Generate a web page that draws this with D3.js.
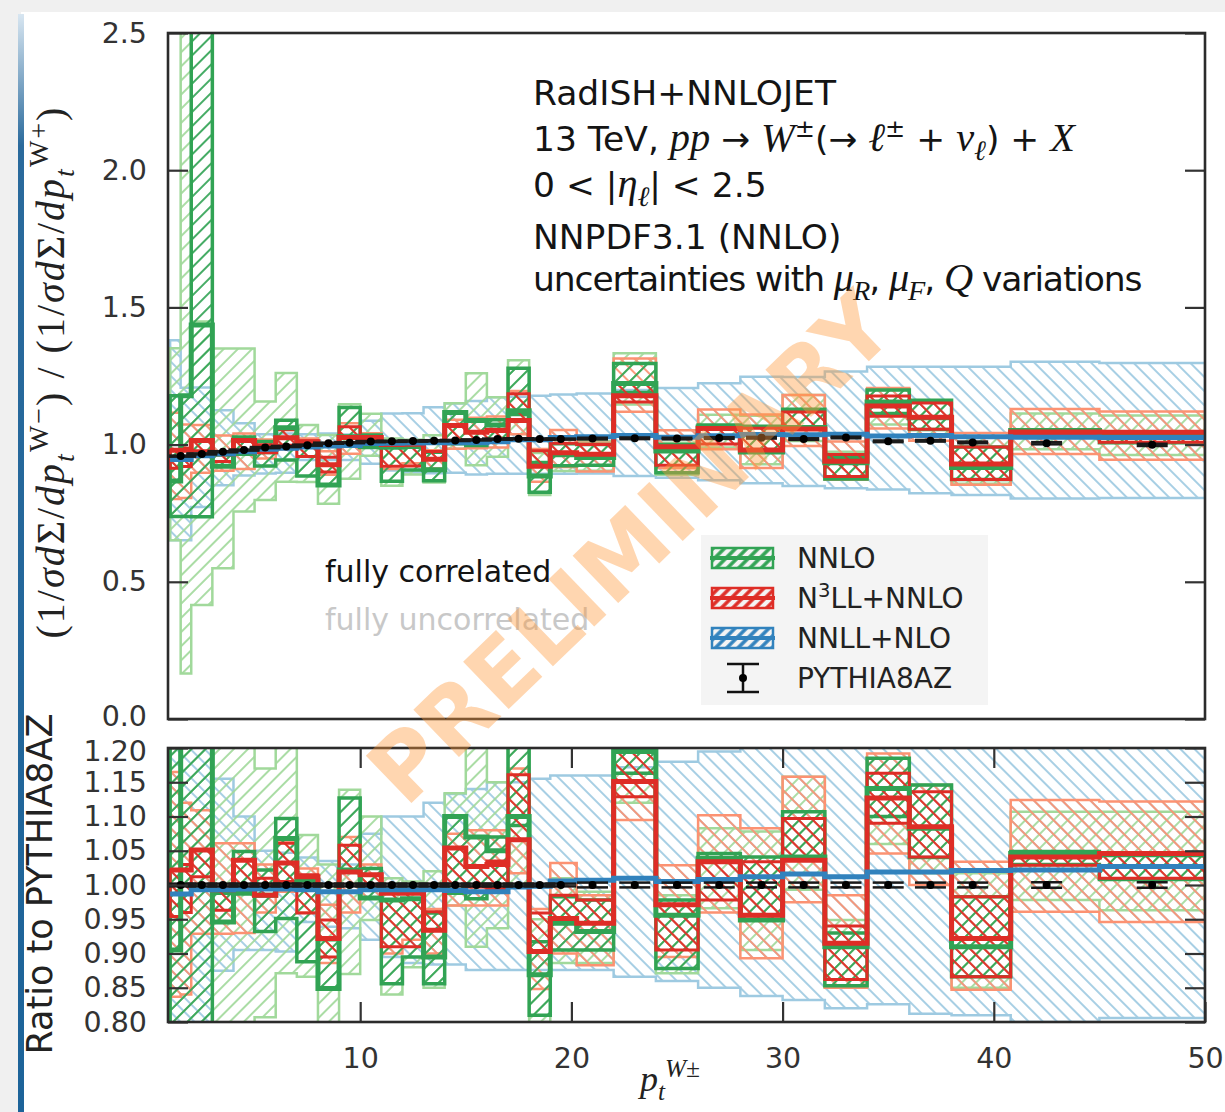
<!DOCTYPE html>
<html>
<head>
<meta charset="utf-8">
<script src="https://cdn.jsdelivr.net/npm/d3@7"></script>
<style>
  body { margin: 0; background: #f0f0f0; }
  svg { display: block; }
</style>
</head>
<body>
<svg id="chart" width="1225" height="1112"></svg>
<script>
// ---------------- binning ----------------
const binEdges = [1, 1.5, 2, 3, 4, 5, 6, 7, 8, 9, 10, 11, 12, 13, 14, 15, 16, 17, 18, 19, 20.25,
                  22, 24, 26, 28, 30, 32, 34, 36, 38, 40.8, 45, 50];

// ---------------- upper panel: (1/σ dΣ/dpt)_W- / (1/σ dΣ/dpt)_W+ ----------------
// NNLO
const nnloC      = [0.867, 1.178, 1.436, 0.921, 0.968, 0.974, 1.061, 1.005, 0.853, 1.029, 0.992, 0.990, 0.993, 0.908, 1.117, 1.088, 1.071, 1.123, 0.886, 0.963, 0.953, 1.223, 0.977, 1.064, 0.973, 1.062, 0.934, 1.155, 1.098, 0.917, 1.051, 1.043];
const nnloCorrLo = [0.738, 0.738, 0.737, 0.921, 0.968, 0.922, 0.944, 0.886, 0.853, 1.029, 0.992, 0.866, 0.907, 0.868, 1.003, 0.997, 1.010, 1.110, 0.826, 0.923, 0.925, 1.190, 0.897, 1.064, 0.973, 1.062, 0.875, 1.113, 1.055, 0.873, 1.035, 1.007];
const nnloCorrHi = [1.178, 1.178, 2.608, 0.962, 1.028, 1.011, 1.089, 1.005, 0.925, 1.135, 1.035, 0.990, 0.993, 0.972, 1.117, 1.088, 1.091, 1.278, 0.935, 1.003, 1.000, 1.296, 1.000, 1.071, 1.067, 1.129, 0.954, 1.199, 1.162, 0.991, 1.054, 1.045];
const nnloUncLo  = [0.651, 0.166, 0.415, 0.549, 0.756, 0.798, 0.865, 0.864, 0.784, 0.876, 0.959, 0.850, 0.891, 0.862, 0.985, 0.925, 0.956, 1.021, 0.816, 0.904, 0.905, 1.146, 0.890, 0.989, 0.928, 1.013, 0.872, 1.073, 1.031, 0.857, 0.983, 0.962];
const nnloUncHi  = [1.351, 2.587, 1.449, 1.350, 1.350, 1.157, 1.261, 1.071, 1.035, 1.147, 1.112, 1.022, 1.018, 1.034, 1.151, 1.260, 1.173, 1.307, 0.969, 1.030, 1.012, 1.333, 1.007, 1.109, 1.105, 1.181, 0.974, 1.199, 1.162, 1.025, 1.113, 1.106];
// N3LL+NNLO
const n3llC      = [0.979, 0.979, 1.015, 0.967, 1.015, 0.974, 1.025, 1.010, 0.927, 1.026, 1.026, 1.000, 1.001, 0.947, 1.070, 1.045, 1.051, 1.088, 0.921, 0.970, 0.965, 1.178, 0.992, 1.059, 0.980, 1.057, 0.939, 1.141, 1.100, 0.929, 1.046, 1.045];
const n3llCorrLo = [0.914, 0.920, 0.978, 0.938, 0.973, 0.974, 0.998, 0.957, 0.900, 1.026, 1.011, 0.921, 0.922, 0.947, 1.008, 1.014, 1.015, 1.088, 0.921, 0.970, 0.965, 1.155, 0.925, 1.002, 0.980, 1.057, 0.884, 1.103, 1.056, 0.873, 1.034, 1.009];
const n3llCorrHi = [0.979, 0.987, 1.015, 0.967, 1.015, 0.999, 1.054, 1.013, 0.954, 1.065, 1.026, 1.000, 1.001, 0.975, 1.070, 1.045, 1.056, 1.185, 0.978, 1.005, 1.000, 1.224, 0.992, 1.059, 1.060, 1.119, 0.964, 1.177, 1.152, 0.991, 1.051, 1.045];
const n3llUncLo  = [0.802, 0.805, 0.897, 0.905, 0.911, 0.949, 0.983, 0.958, 0.890, 0.967, 0.991, 0.911, 0.932, 0.913, 0.985, 0.987, 0.989, 1.038, 0.865, 0.918, 0.902, 1.120, 0.915, 0.983, 0.915, 0.995, 0.872, 1.059, 1.014, 0.854, 0.966, 0.945];
const n3llUncHi  = [1.116, 1.073, 1.071, 1.033, 1.040, 1.019, 1.058, 1.022, 0.976, 1.078, 1.041, 1.007, 1.003, 0.979, 1.091, 1.098, 1.102, 1.195, 0.984, 1.053, 1.007, 1.314, 1.052, 1.128, 1.110, 1.181, 1.011, 1.206, 1.162, 1.042, 1.130, 1.121];
// NNLL+NLO
const nnllC  = [0.946, 0.946, 0.959, 0.967, 0.974, 0.983, 0.987, 0.991, 0.995, 0.997, 1.004, 1.005, 1.006, 1.007, 1.007, 1.007, 1.010, 1.018, 1.018, 1.026, 1.029, 1.033, 1.027, 1.032, 1.037, 1.036, 1.038, 1.031, 1.033, 1.029, 1.027, 1.026];
const nnllLo = [0.651, 0.651, 0.773, 0.852, 0.887, 0.895, 0.897, 0.944, 0.944, 0.944, 0.930, 0.906, 0.898, 0.896, 0.897, 0.891, 0.894, 0.894, 0.894, 0.894, 0.895, 0.886, 0.879, 0.870, 0.859, 0.849, 0.841, 0.836, 0.823, 0.816, 0.804, 0.805];
const nnllHi = [1.380, 1.207, 1.208, 1.125, 1.078, 1.038, 1.040, 1.038, 1.040, 1.037, 1.087, 1.113, 1.114, 1.136, 1.150, 1.159, 1.173, 1.174, 1.178, 1.183, 1.186, 1.199, 1.206, 1.224, 1.247, 1.246, 1.266, 1.284, 1.284, 1.284, 1.302, 1.297];

// ---------------- lower panel: ratio to PYTHIA8AZ ----------------
const nnloRC      = [0.905, 1.230, 1.487, 0.946, 0.988, 0.985, 1.068, 1.007, 0.849, 1.022, 0.981, 0.978, 0.980, 0.895, 1.100, 1.070, 1.050, 1.100, 0.869, 0.944, 0.932, 1.195, 0.956, 1.039, 0.949, 1.041, 0.910, 1.141, 1.083, 0.910, 1.046, 1.044];
const nnloRCorrLo = [0.770, 0.770, 0.763, 0.946, 0.988, 0.932, 0.951, 0.888, 0.849, 1.022, 0.981, 0.856, 0.895, 0.856, 0.988, 0.980, 0.990, 1.087, 0.810, 0.905, 0.905, 1.163, 0.878, 1.039, 0.949, 1.041, 0.853, 1.100, 1.040, 0.866, 1.030, 1.008];
const nnloRCorrHi = [1.230, 1.230, 2.700, 0.988, 1.049, 1.022, 1.097, 1.007, 0.920, 1.127, 1.024, 0.978, 0.980, 0.959, 1.100, 1.070, 1.070, 1.252, 0.917, 0.983, 0.978, 1.267, 0.978, 1.046, 1.041, 1.107, 0.930, 1.185, 1.146, 0.983, 1.049, 1.046];
const nnloRUncLo  = [0.680, 0.173, 0.430, 0.564, 0.771, 0.807, 0.871, 0.866, 0.780, 0.870, 0.949, 0.840, 0.880, 0.850, 0.970, 0.910, 0.937, 1.000, 0.800, 0.886, 0.886, 1.120, 0.871, 0.966, 0.905, 0.993, 0.850, 1.060, 1.017, 0.850, 0.978, 0.963];
const nnloRUncHi  = [1.410, 2.700, 1.500, 1.386, 1.378, 1.170, 1.270, 1.073, 1.030, 1.139, 1.100, 1.010, 1.005, 1.020, 1.134, 1.239, 1.150, 1.280, 0.950, 1.010, 0.990, 1.303, 0.985, 1.083, 1.078, 1.158, 0.949, 1.185, 1.146, 1.017, 1.107, 1.107];

const n3llRC      = [1.022, 1.022, 1.051, 0.993, 1.036, 0.985, 1.032, 1.012, 0.922, 1.019, 1.015, 0.988, 0.988, 0.934, 1.054, 1.027, 1.030, 1.066, 0.903, 0.951, 0.944, 1.151, 0.971, 1.034, 0.956, 1.036, 0.915, 1.127, 1.085, 0.922, 1.041, 1.046];
const n3llRCorrLo = [0.954, 0.960, 1.012, 0.963, 0.993, 0.985, 1.005, 0.959, 0.895, 1.019, 1.000, 0.910, 0.910, 0.934, 0.993, 0.997, 0.995, 1.066, 0.903, 0.951, 0.944, 1.129, 0.905, 0.978, 0.956, 1.036, 0.862, 1.090, 1.041, 0.866, 1.029, 1.010];
const n3llRCorrHi = [1.022, 1.030, 1.051, 0.993, 1.036, 1.010, 1.061, 1.015, 0.949, 1.058, 1.015, 0.988, 0.988, 0.961, 1.054, 1.027, 1.035, 1.161, 0.959, 0.985, 0.978, 1.196, 0.971, 1.034, 1.034, 1.097, 0.940, 1.163, 1.136, 0.983, 1.046, 1.046];
const n3llRUncLo  = [0.837, 0.840, 0.929, 0.929, 0.930, 0.960, 0.990, 0.960, 0.886, 0.960, 0.980, 0.900, 0.920, 0.900, 0.970, 0.970, 0.970, 1.017, 0.848, 0.900, 0.883, 1.095, 0.895, 0.960, 0.893, 0.975, 0.850, 1.046, 1.000, 0.847, 0.961, 0.946];
const n3llRUncHi  = [1.165, 1.120, 1.109, 1.061, 1.061, 1.030, 1.065, 1.024, 0.971, 1.070, 1.030, 0.995, 0.990, 0.965, 1.075, 1.080, 1.080, 1.170, 0.965, 1.032, 0.985, 1.284, 1.029, 1.102, 1.083, 1.158, 0.985, 1.192, 1.146, 1.034, 1.124, 1.122];

const nnllRC  = [0.987, 0.987, 0.993, 0.993, 0.994, 0.994, 0.994, 0.993, 0.990, 0.990, 0.993, 0.993, 0.993, 0.993, 0.992, 0.990, 0.990, 0.997, 0.998, 1.006, 1.007, 1.010, 1.005, 1.008, 1.012, 1.016, 1.012, 1.019, 1.019, 1.021, 1.022, 1.027];
const nnllRLo = [0.680, 0.680, 0.800, 0.875, 0.905, 0.905, 0.903, 0.946, 0.939, 0.937, 0.920, 0.895, 0.886, 0.884, 0.884, 0.876, 0.876, 0.876, 0.876, 0.876, 0.876, 0.866, 0.860, 0.850, 0.838, 0.832, 0.820, 0.826, 0.812, 0.810, 0.800, 0.806];
const nnllRHi = [1.440, 1.260, 1.250, 1.155, 1.100, 1.050, 1.047, 1.040, 1.035, 1.030, 1.075, 1.100, 1.100, 1.120, 1.133, 1.140, 1.150, 1.150, 1.155, 1.160, 1.160, 1.172, 1.180, 1.195, 1.217, 1.222, 1.234, 1.269, 1.266, 1.274, 1.296, 1.298];

// ---------------- PYTHIA8AZ reference ----------------
const pythiaX   = [1.5, 2.5, 3.5, 4.5, 5.5, 6.5, 7.5, 8.5, 9.5, 10.5, 11.5, 12.5, 13.5, 14.5, 15.5, 16.5, 17.5, 18.5, 19.5,
                   21, 23, 25, 27, 29, 31, 33, 35, 37, 39, 42.5, 47.5];
const pythiaY   = [0.958, 0.966, 0.974, 0.980, 0.989, 0.993, 0.998, 1.005, 1.007, 1.011, 1.012, 1.013, 1.014, 1.015, 1.017, 1.020, 1.021, 1.020, 1.020,
                   1.022, 1.023, 1.022, 1.024, 1.025, 1.020, 1.026, 1.012, 1.014, 1.008, 1.005, 0.999];
const pythiaErr = [0.002, 0.002, 0.002, 0.002, 0.002, 0.002, 0.002, 0.002, 0.002, 0.002, 0.002, 0.002, 0.002, 0.002, 0.002, 0.002, 0.002, 0.002, 0.002,
                   0.003, 0.003, 0.003, 0.003, 0.003, 0.003, 0.003, 0.003, 0.003, 0.003, 0.004, 0.004];
const pythiaRatio    = [1, 1, 1, 1, 1, 1, 1, 1, 1, 1, 1, 1, 1, 1, 1, 1, 1, 1, 1, 1, 1, 1, 1, 1, 1, 1, 1, 1, 1, 1, 1];
const pythiaRatioErr = [0.002, 0.002, 0.002, 0.002, 0.002, 0.002, 0.002, 0.002, 0.002, 0.002, 0.002, 0.002, 0.002, 0.002, 0.002, 0.002, 0.002, 0.002, 0.002,
                        0.0035, 0.0035, 0.0035, 0.0035, 0.0035, 0.0035, 0.0035, 0.0035, 0.0035, 0.0035, 0.004, 0.004];

// ---------------- axes ticks ----------------
const topTicks = [0, 0.5, 1.0, 1.5, 2.0, 2.5];
const botTicks = [0.80, 0.85, 0.90, 0.95, 1.00, 1.05, 1.10, 1.15, 1.20];
const xTicks   = [10, 20, 30, 40, 50];

// ---------------- styling ----------------
const C = {
  green: "#31a354", greenL: "#a1d99b",
  red: "#de2d26",   redL: "#fc9272",
  blue: "#3182bd",  blueL: "#9ecae1",
  axis: "#333333"
};
const SANS = "'DejaVu Sans', 'Liberation Sans', sans-serif";
const SERIF = "'Liberation Serif', 'DejaVu Serif', serif";

const svg = d3.select("#chart");
const W = 1225, H = 1112;

const x = d3.scaleLinear().domain([0.9, 50]).range([168, 1205]);
const yTop = d3.scaleLinear().domain([0, 2.5]).range([719, 33]);
const yBot = d3.scaleLinear().domain([0.8, 1.2]).range([1022, 748]);

// ---------------- page frame ----------------
const defs = svg.append("defs");
const gTop = defs.append("linearGradient").attr("id", "frameTop").attr("x1", 0).attr("x2", 1).attr("y1", 0).attr("y2", 0);
gTop.append("stop").attr("offset", "0%").attr("stop-color", "#cfe0ee");
gTop.append("stop").attr("offset", "12%").attr("stop-color", "#2a6a9c");
gTop.append("stop").attr("offset", "100%").attr("stop-color", "#1f5d8e");
const gLeft = defs.append("linearGradient").attr("id", "frameLeft").attr("x1", 0).attr("x2", 0).attr("y1", 0).attr("y2", 1);
gLeft.append("stop").attr("offset", "0%").attr("stop-color", "#d8e6f1");
gLeft.append("stop").attr("offset", "12%").attr("stop-color", "#2a6a9c");
gLeft.append("stop").attr("offset", "100%").attr("stop-color", "#1c6399");

svg.append("rect").attr("width", W).attr("height", H).attr("fill", "#f0f0f0");
svg.append("rect").attr("x", 21).attr("y", 12).attr("width", W - 21).attr("height", H - 12).attr("fill", "#ffffff");
svg.append("line").attr("x1", 30).attr("x2", W).attr("y1", 12).attr("y2", 12)
  .attr("stroke", "url(#frameTop)").attr("stroke-width", 4);
svg.append("rect").attr("x", 18).attr("y", 14).attr("width", 6).attr("height", H - 14)
  .attr("fill", "url(#frameLeft)");

// ---------------- hatch patterns ----------------
function hatch(id, color, angle, spacing, width) {
  const p = defs.append("pattern").attr("id", id)
    .attr("patternUnits", "userSpaceOnUse")
    .attr("width", spacing).attr("height", spacing)
    .attr("patternTransform", `rotate(${angle})`);
  p.append("line").attr("x1", spacing / 2).attr("x2", spacing / 2)
    .attr("y1", 0).attr("y2", spacing)
    .attr("stroke", color).attr("stroke-width", width);
}
hatch("hGreenL", C.greenL, 45, 10, 1.8);
hatch("hGreen", C.green, 45, 10, 1.8);
hatch("hRedL", C.redL, -45, 10, 1.8);
hatch("hRed", C.red, -45, 10, 1.8);
hatch("hBlueL", C.blueL, -45, 10, 1.8);
hatch("lgGreen", C.green, 45, 8, 3.5);
hatch("lgRed", C.red, 45, 8, 3.5);
hatch("lgBlue", C.blue, 45, 8, 3.5);

defs.append("clipPath").attr("id", "clipTop").append("rect")
  .attr("x", 168).attr("y", 33).attr("width", 1037).attr("height", 686);
defs.append("clipPath").attr("id", "clipBot").append("rect")
  .attr("x", 168).attr("y", 748).attr("width", 1037).attr("height", 274);

// ---------------- drawing helpers ----------------
function stepBand(lo, hi) {
  const pts = lo.map((v, i) => ({ e: binEdges[i], lo: v, hi: hi[i] }));
  pts.push({ e: binEdges[lo.length], lo: lo[lo.length - 1], hi: hi[hi.length - 1] });
  return pts;
}
function stepLine(vals) {
  const pts = vals.map((v, i) => ({ e: binEdges[i], v }));
  pts.push({ e: binEdges[vals.length], v: vals[vals.length - 1] });
  return pts;
}

function drawPanel(y, clipId, s) {
  const g = svg.append("g").attr("clip-path", `url(#${clipId})`);
  const area = d3.area().x(d => x(d.e)).y0(d => y(d.lo)).y1(d => y(d.hi)).curve(d3.curveStepAfter);
  const line = d3.line().x(d => x(d.e)).y(d => y(d.v)).curve(d3.curveStepAfter);

  const band = (lo, hi, fill, stroke, sw) =>
    g.append("path").datum(stepBand(lo, hi)).attr("d", area)
      .attr("fill", fill).attr("stroke", stroke).attr("stroke-width", sw)
      .attr("stroke-linejoin", "miter");

  band(s.nnllLo, s.nnllHi, "url(#hBlueL)", C.blueL, 2.5);
  band(s.nnloUncLo, s.nnloUncHi, "url(#hGreenL)", C.greenL, 2.5);
  band(s.n3llUncLo, s.n3llUncHi, "url(#hRedL)", C.redL, 2.5);
  band(s.nnloCorrLo, s.nnloCorrHi, "url(#hGreen)", C.green, 3.5);
  band(s.n3llCorrLo, s.n3llCorrHi, "url(#hRed)", C.red, 3);

  const central = (vals, color, sw) =>
    g.append("path").datum(stepLine(vals)).attr("d", line)
      .attr("fill", "none").attr("stroke", color).attr("stroke-width", sw);
  central(s.nnloC, C.green, 5);
  central(s.n3llC, C.red, 5);
  central(s.nnllC, C.blue, 5);

  // PYTHIA8AZ points with error bars
  const pg = g.append("g");
  s.pyY.forEach((v, i) => {
    const cx = x(pythiaX[i]);
    const yl = y(v - s.pyE[i]), yh = y(v + s.pyE[i]);
    pg.append("line").attr("x1", cx).attr("x2", cx).attr("y1", yl).attr("y2", yh)
      .attr("stroke", "#111").attr("stroke-width", 2.5);
    [yl, yh].forEach(yy => pg.append("line")
      .attr("x1", cx - 15.5).attr("x2", cx + 15.5).attr("y1", yy).attr("y2", yy)
      .attr("stroke", "#1a1a1a").attr("stroke-width", 2.5));
    pg.append("circle").attr("cx", cx).attr("cy", y(v)).attr("r", 4).attr("fill", "#000");
  });
}

drawPanel(yTop, "clipTop", {
  nnllLo, nnllHi, nnllC,
  nnloUncLo, nnloUncHi, nnloCorrLo, nnloCorrHi, nnloC,
  n3llUncLo, n3llUncHi, n3llCorrLo, n3llCorrHi, n3llC,
  pyY: pythiaY, pyE: pythiaErr
});
drawPanel(yBot, "clipBot", {
  nnllLo: nnllRLo, nnllHi: nnllRHi, nnllC: nnllRC,
  nnloUncLo: nnloRUncLo, nnloUncHi: nnloRUncHi, nnloCorrLo: nnloRCorrLo, nnloCorrHi: nnloRCorrHi, nnloC: nnloRC,
  n3llUncLo: n3llRUncLo, n3llUncHi: n3llRUncHi, n3llCorrLo: n3llRCorrLo, n3llCorrHi: n3llRCorrHi, n3llC: n3llRC,
  pyY: pythiaRatio, pyE: pythiaRatioErr
});

// ---------------- axes ----------------
const TICK_FS = 28.5;
function styleAxis(sel) {
  sel.select(".domain").remove();
  sel.selectAll(".tick line").attr("stroke", C.axis).attr("stroke-width", 2.2);
  sel.selectAll(".tick text").attr("fill", C.axis)
    .style("font-family", SANS).style("font-size", TICK_FS + "px");
  return sel;
}
const axTopL = styleAxis(svg.append("g").attr("transform", "translate(168,0)")
  .call(d3.axisLeft(yTop).tickValues(topTicks).tickFormat(d3.format(".1f")).tickSize(-20).tickPadding(21)));
styleAxis(svg.append("g").attr("transform", "translate(1205,0)")
  .call(d3.axisRight(yTop).tickValues(topTicks).tickFormat("").tickSize(-20)));
const axBotL = styleAxis(svg.append("g").attr("transform", "translate(168,0)")
  .call(d3.axisLeft(yBot).tickValues(botTicks).tickFormat(d3.format(".2f")).tickSize(-20).tickPadding(21)));
styleAxis(svg.append("g").attr("transform", "translate(1205,0)")
  .call(d3.axisRight(yBot).tickValues(botTicks).tickFormat("").tickSize(-20)));
styleAxis(svg.append("g").attr("transform", "translate(0,1022)")
  .call(d3.axisBottom(x).tickValues(xTicks).tickFormat(d3.format("d")).tickSize(-20).tickPadding(26)));
styleAxis(svg.append("g").attr("transform", "translate(0,748)")
  .call(d3.axisTop(x).tickValues(xTicks.slice(0, 4)).tickFormat("").tickSize(-20)));
// the two labels where the panels meet sit slightly apart
axTopL.selectAll(".tick text").filter(d => d === 0).attr("y", -3);
axBotL.selectAll(".tick text").filter(d => d === 1.2).attr("y", 3);

// panel frames
[[33, 719], [748, 1022]].forEach(([t, b]) =>
  svg.append("rect").attr("x", 168).attr("y", t).attr("width", 1037).attr("height", b - t)
    .attr("fill", "none").attr("stroke", "#2b2b2b").attr("stroke-width", 2.6));

// ---------------- rich text helper ----------------
// segments: plain text, italic math (it), superscript (sup), subscript (sub)
function rich(sel, segs, size, mathScale = 1) {
  let off = 0;
  segs.forEach(s => {
    const ts = sel.append("tspan").text(s.t);
    let target = 0, fs = size;
    if (s.it || s.serif) fs = size * mathScale;
    if (s.sup) { target = -0.40 * size; fs = 0.7 * fs; }
    if (s.sub) { target = 0.25 * size; fs = 0.7 * fs; }
    ts.attr("dy", (target - off).toFixed(2));
    off = target;
    ts.style("font-size", fs.toFixed(1) + "px");
    if (s.it) ts.style("font-family", SERIF).style("font-style", "italic");
    if (s.serif) ts.style("font-family", SERIF);
    if (s.dx !== undefined) ts.attr("dx", s.dx);
  });
}

// ---------------- annotation block ----------------
const info = svg.append("g").style("font-family", SANS).attr("fill", "#141414");
const infoX = 533, FS = 34.5, MS = 1.17;
rich(info.append("text").attr("x", infoX).attr("y", 105), [{ t: "RadISH+NNLOJET" }], FS);
rich(info.append("text").attr("x", infoX).attr("y", 151), [
  { t: "13 TeV, " }, { t: "pp", it: true }, { t: " → " }, { t: "W", it: true }, { t: "±", sup: true },
  { t: "(→ " }, { t: "ℓ", it: true }, { t: "±", sup: true }, { t: " + " },
  { t: "ν", it: true }, { t: "ℓ", sub: true, it: true }, { t: ") + " }, { t: "X", it: true }
], FS, MS);
rich(info.append("text").attr("x", infoX).attr("y", 197), [
  { t: "0 < |" }, { t: "η", it: true }, { t: "ℓ", sub: true, it: true }, { t: "| < 2.5" }
], FS, MS);
rich(info.append("text").attr("x", infoX).attr("y", 249), [{ t: "NNPDF3.1 (NNLO)" }], FS);
rich(info.append("text").attr("x", infoX).attr("y", 291).style("letter-spacing", "-1.1px"), [
  { t: "uncertainties with " }, { t: "μ", it: true }, { t: "R", sub: true, it: true }, { t: ", " },
  { t: "μ", it: true }, { t: "F", sub: true, it: true }, { t: ", " }, { t: "Q", it: true }, { t: " variations" }
], FS, MS);

svg.append("text").attr("x", 325).attr("y", 582).text("fully correlated")
  .style("font-family", SANS).style("font-size", "30px").attr("fill", "#141414");
svg.append("text").attr("x", 325).attr("y", 630).text("fully uncorrelated")
  .style("font-family", SANS).style("font-size", "30px").attr("fill", "#c8c8c8");

// ---------------- legend ----------------
const lg = svg.append("g");
lg.append("rect").attr("x", 701).attr("y", 535).attr("width", 287).attr("height", 170).attr("fill", "#f4f4f4");
const legendItems = [
  { label: [{ t: "NNLO" }], color: C.green, pat: "lgGreen", cy: 558 },
  { label: [{ t: "N" }, { t: "3", sup: true }, { t: "LL+NNLO" }], color: C.red, pat: "lgRed", cy: 598 },
  { label: [{ t: "NNLL+NLO" }], color: C.blue, pat: "lgBlue", cy: 638 }
];
legendItems.forEach(it => {
  lg.append("rect").attr("x", 712).attr("y", it.cy - 10).attr("width", 61).attr("height", 20)
    .attr("fill", `url(#${it.pat})`).attr("stroke", it.color).attr("stroke-width", 2.5);
  lg.append("line").attr("x1", 710).attr("x2", 775).attr("y1", it.cy).attr("y2", it.cy)
    .attr("stroke", it.color).attr("stroke-width", 4);
  rich(lg.append("text").attr("x", 797).attr("y", it.cy + 10).style("font-family", SANS).attr("fill", "#222"),
    it.label, 28);
});
// PYTHIA8AZ legend marker
const pyl = lg.append("g").attr("stroke", "#111").attr("stroke-width", 2.5);
pyl.append("line").attr("x1", 743).attr("x2", 743).attr("y1", 664).attr("y2", 692);
pyl.append("line").attr("x1", 727).attr("x2", 759).attr("y1", 664).attr("y2", 664);
pyl.append("line").attr("x1", 727).attr("x2", 759).attr("y1", 692).attr("y2", 692);
lg.append("circle").attr("cx", 743).attr("cy", 678).attr("r", 4).attr("fill", "#000");
rich(lg.append("text").attr("x", 797).attr("y", 688).style("font-family", SANS).attr("fill", "#222"),
  [{ t: "PYTHIA8AZ" }], 28);

// ---------------- axis titles ----------------
const yl1 = svg.append("text").attr("transform", "translate(64,372) rotate(-90)")
  .attr("text-anchor", "middle").style("font-family", SERIF).style("letter-spacing", "2px").attr("fill", "#222");
rich(yl1, [
  { t: "(1/", serif: true }, { t: "σd", it: true }, { t: "Σ/", serif: true }, { t: "dp", it: true },
  { t: "t", sub: true, it: true }, { t: "W−", sup: true, serif: true },
  { t: ") / (1/", serif: true }, { t: "σd", it: true }, { t: "Σ/", serif: true }, { t: "dp", it: true },
  { t: "t", sub: true, it: true }, { t: "W+", sup: true, serif: true },
  { t: ")", serif: true }
], 40);

svg.append("text").attr("transform", "translate(52,884) rotate(-90)")
  .attr("text-anchor", "middle").style("font-family", SANS).style("font-size", "35px")
  .attr("fill", "#222").text("Ratio to PYTHIA8AZ");

const xl = svg.append("text").attr("x", 640).attr("y", 1091).attr("fill", "#222");
rich(xl, [
  { t: "p", it: true }, { t: "t", sub: true, it: true },
  { t: "W±", sup: true, it: true }
], 36);

// ---------------- watermark ----------------
svg.append("text").attr("transform", "translate(630,548) rotate(-44)")
  .attr("text-anchor", "middle").attr("dominant-baseline", "central")
  .style("font-family", SANS).style("font-weight", "bold").style("font-size", "90px")
  .attr("fill", "#ff9a3c").attr("opacity", 0.4).text("PRELIMINARY");
</script>
</body>
</html>
